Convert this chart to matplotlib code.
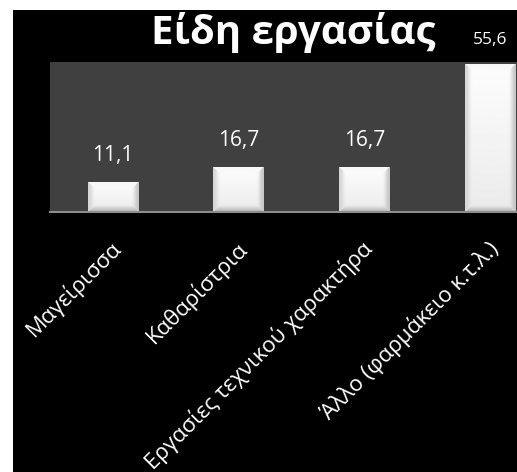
import numpy as np
import matplotlib.pyplot as plt
from matplotlib.patches import Rectangle
from matplotlib.transforms import ScaledTranslation

#-------------------------------------------------------------------------

categories = ["Μαγείρισσα", "Καθαρίστρια", "Εργασίες τεχνικού χαρακτήρα", "Άλλο (φαρμάκειο κ.τ.λ.)"]
values = [11.1, 16.7, 16.7, 55.6]
value_labels = ["11,1", "16,7", "16,7", "55,6"]
title = "Είδη εργασίας"

plt.rcParams["font.family"] = ["Open Sans", "DejaVu Sans"]

W, H = 517, 472
fig = plt.figure(figsize = (W/100, H/100), dpi = 100)
fig.patch.set_facecolor("white")

# black panel behind everything
fig.patches.append(Rectangle((13/W, 0), 1, 1 - 10/H, transform = fig.transFigure,
                             facecolor = "black", edgecolor = "none", zorder = -10))

ax = fig.add_axes([50/W, 1 - 212/H, 503/W, 150/H])
ax.set_zorder(1)
ax.set_facecolor("#404040")

x = np.arange(len(categories))
bars = ax.bar(x, values, width = 0.4, color = "white", zorder = 2)

ax.set_xlim(-0.5, len(categories) - 0.5)
ax.set_ylim(0, 56.7)

# soft bevel shading for the bars
def bevel(nx, ny, b = 7.0):
    u = np.arange(nx)[None, :] * np.ones((ny, 1))
    v = np.arange(ny)[:, None] * np.ones((1, nx))
    center = 0.99 - 0.07 * (v / max(ny - 1, 1))
    dist = np.stack([u, nx - 1 - u, v, ny - 1 - v])
    shade = np.array([0.84, 0.78, 0.97, 0.74])[:, None, None] * np.ones_like(dist)
    k = np.argmin(dist, axis = 0)
    d = np.min(dist, axis = 0)
    edge = np.take_along_axis(shade, k[None], axis = 0)[0]
    t = np.clip(d / b, 0, 1)
    t = t * t * (3 - 2 * t)
    return edge * (1 - t) + center * t

fig.canvas.draw()
for rect in bars:
    x0, y0 = rect.get_x(), rect.get_y()
    x1, y1 = x0 + rect.get_width(), y0 + rect.get_height()
    p0 = ax.transData.transform((x0, y0))
    p1 = ax.transData.transform((x1, y1))
    nx = max(int(round(p1[0] - p0[0])), 2)
    ny = max(int(round(p1[1] - p0[1])), 2)
    ax.imshow(bevel(nx, ny), cmap = "gray", vmin = 0, vmax = 1, extent = (x0, x1, y0, y1),
              aspect = "auto", interpolation = "bilinear", zorder = 3)

ax.set_xlim(-0.5, len(categories) - 0.5)
ax.set_ylim(0, 56.7)

sizes = [15, 15, 15, 12.5]
for i in range(len(values)):
    ax.annotate(value_labels[i], (x[i], values[i]), xytext = (0, 12), textcoords = "offset points",
                ha = "center", va = "bottom", color = "white", fontsize = sizes[i],
                annotation_clip = False, zorder = 5)

for s in ["top", "left", "right"]:
    ax.spines[s].set_visible(False)
ax.spines["bottom"].set_color("#8c8c8c")
ax.spines["bottom"].set_linewidth(1.5)
ax.spines["bottom"].set_zorder(4)

ax.set_yticks([])
ax.set_xticks(x)
ax.set_xticklabels(categories, rotation = 45, ha = "right", va = "top",
                   rotation_mode = "anchor", color = "white", fontsize = 16)
ax.tick_params(axis = "x", length = 0, pad = 18)
offset = ScaledTranslation(-3/100, 0, fig.dpi_scale_trans)
for lab in ax.get_xticklabels():
    lab.set_transform(lab.get_transform() + offset)

fig.text(293/W, 1 - 44/H, title, ha = "center", va = "baseline", color = "white",
         fontsize = 29, fontweight = "bold", zorder = 5)

plt.savefig("out.png", dpi = 100)
